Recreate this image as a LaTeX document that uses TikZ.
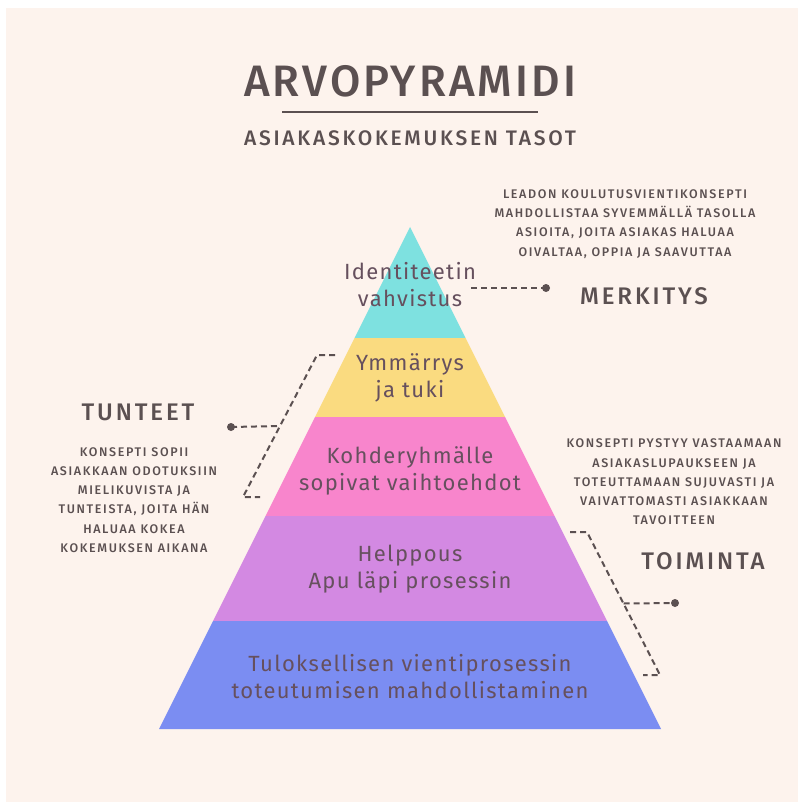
\documentclass[tikz,border=0pt]{standalone}
\usepackage{fontspec}
\setmainfont{Fira Sans Medium}
\newfontfamily\layerfont{Fira Sans}
\usetikzlibrary{calc}
\usetikzlibrary{positioning}

\definecolor{bgcream}{HTML}{FDF3ED}
\definecolor{inkgray}{HTML}{5B5051}
\definecolor{layerink}{HTML}{66505E}
\definecolor{layercyan}{HTML}{7EE1E0}
\definecolor{layeryellow}{HTML}{FADB80}
\definecolor{layerpink}{HTML}{F885CC}
\definecolor{layerpurple}{HTML}{D389E2}
\definecolor{layerblue}{HTML}{7B8DF2}

\begin{document}
\begin{tikzpicture}[x=1pt,y=-1pt,
    heading/.style={text=inkgray,font=\fontsize{24}{24}\selectfont\addfontfeatures{LetterSpace=12}},
    note/.style={text=inkgray,align=center,font=\fontsize{12.5}{19.3}\selectfont\addfontfeatures{LetterSpace=13}},
    layer/.style={text=layerink,align=center,font=\layerfont\fontsize{22}{27}\selectfont\addfontfeatures{LetterSpace=6}},
    link/.style={draw=inkgray,line width=2pt,dash pattern=on 6pt off 4pt},
    dot/.style={circle,fill=inkgray,inner sep=0pt,minimum size=8pt}]

  \useasboundingbox (0,0) rectangle (798,802);
  \fill[bgcream] (6,8) rectangle (798,802);

  % title
  \node [text=inkgray,font=\fontsize{44}{44}\selectfont\addfontfeatures{LetterSpace=7}] (title) at (410,81) {ARVOPYRAMIDI};
  \draw [inkgray,line width=2.5pt] (282,112) -- (538,112);
  \node [text=inkgray,font=\fontsize{21}{21}\selectfont\addfontfeatures{LetterSpace=13}] (subtitle) at (410,138) {ASIAKASKOKEMUKSEN TASOT};

  % pyramid
  \foreach \ya/\yb/\col in {227/338/layercyan,338/417/layeryellow,417/516/layerpink,516/621/layerpurple,621/729/layerblue}
    \fill [\col] ({410-(\ya-227)/2},\ya) -- ({410+(\ya-227)/2},\ya) -- ({410+(\yb-227)/2},\yb) -- ({410-(\yb-227)/2},\yb) -- cycle;

  \node [layer] (identity) at (410,285) {Identiteetin\\vahvistus};
  \node [layer] (support) at (410,378) {Ymmärrys\\ja tuki};
  \node [layer] (target) at (410,471) {Kohderyhmälle\\sopivat vaihtoehdot};
  \node [layer] (ease) at (410,569) {Helppous\\Apu läpi prosessin};
  \node [layer] (result) at (410,677) {Tuloksellisen vientiprosessin\\toteutumisen mahdollistaminen};

  % headings and notes
  \node [heading] (merkitys) at (644,296) {MERKITYS};
  \node [heading] (tunteet) at (138,412) {TUNTEET};
  \node [heading] (toiminta) at (703,561) {TOIMINTA};

  \node [note] (merkitysnote) at (625,224) {LEADON KOULUTUSVIENTIKONSEPTI\\MAHDOLLISTAA SYVEMMÄLLÄ TASOLLA\\ASIOITA, JOITA ASIAKAS HALUAA\\OIVALTAA, OPPIA JA SAAVUTTAA};
  \node [note] (tunteetnote) at (134,500) {KONSEPTI SOPII\\ASIAKKAAN ODOTUKSIIN\\MIELIKUVISTA JA\\TUNTEISTA, JOITA HÄN\\HALUAA KOKEA\\KOKEMUKSEN AIKANA};
  \node [note] (toimintanote) at (674,482) {KONSEPTI PYSTYY VASTAAMAAN\\ASIAKASLUPAUKSEEN JA\\TOTEUTTAMAAN SUJUVASTI JA\\VAIVATTOMASTI ASIAKKAAN\\TAVOITTEEN};

  % connectors
  \node [dot] (mdot) at (546,288) {};
  \draw [link] ($(identity.east |- mdot)+(-8,0)$) -- (mdot.center);

  \coordinate (tA) at (335,355);
  \coordinate (tB) at (317,355);
  \coordinate (tC) at (243,497);
  \coordinate (tD) at (260,497);
  \node [dot] (tdot) at (231,427) {};
  \draw [link] (tA) -- (tB) -- (tC) -- (tD);
  \draw [link] (tdot.center) -- ($(tB)!0.5!(tC)$);

  \coordinate (oA) at (570,532);
  \coordinate (oB) at (587,532);
  \coordinate (oC) at (660,675);
  \coordinate (oD) at (643,675);
  \node [dot] (odot) at (675,603) {};
  \draw [link] (oA) -- (oB) -- (oC) -- (oD);
  \draw [link] ($(oB)!0.5!(oC)$) -- (odot.center);

\end{tikzpicture}
\end{document}
